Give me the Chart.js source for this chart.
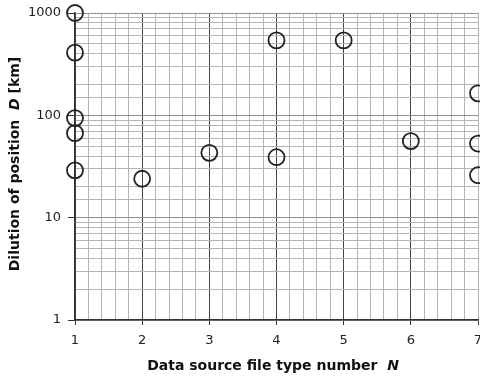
<!DOCTYPE html>
<html>
<head>
<meta charset="utf-8">
<script src="https://cdn.jsdelivr.net/npm/chart.js@4/dist/chart.umd.min.js"></script>
<style>
  html, body { margin: 0; padding: 0; background: #fff; }
  #wrap { width: 480px; height: 379px; }
</style>
</head>
<body>
<div id="wrap"><canvas id="myChart"></canvas></div>
<script>
// data
const fileType = [1, 1, 1, 1, 1, 2, 3, 4, 4, 5, 6, 7, 7, 7];
const dilution = [1000, 410, 94, 67, 29, 24, 43, 540, 39, 540, 56, 164, 53, 26];
const yDecades = [1, 10, 100, 1000];
const xTitle = ['Data source file type number  ', 'N'];
const yTitle = ['Dilution of position  ', 'D', ' [km]'];

const isInt = v => Math.abs(v - Math.round(v)) < 1e-6;
const isDecade = v => yDecades.some(d => Math.abs(v - d) < 1e-6);

// axis titles with an italic symbol
const titles = {
  id: 'titles',
  afterDraw(chart) {
    const c = chart.ctx;
    const bold = 'bold 14px "DejaVu Sans"';
    const ital = 'bold italic 14px "DejaVu Sans"';
    const parts = (arr, symIdx) => arr.map((t, i) => ({ t, f: i === symIdx ? ital : bold }));
    const drawRun = (runs, cx, cy) => {
      let w = 0;
      runs.forEach(r => { c.font = r.f; w += c.measureText(r.t).width; });
      let x = cx - w / 2;
      runs.forEach(r => { c.font = r.f; c.fillText(r.t, x, cy); x += c.measureText(r.t).width; });
    };
    c.save();
    c.fillStyle = '#111';
    c.textBaseline = 'middle';
    drawRun(parts(xTitle, 1), 273, 366);
    c.translate(15, 164);
    c.rotate(-Math.PI / 2);
    drawRun(parts(yTitle, 1), 0, 0);
    c.restore();
  }
};

new Chart(document.getElementById('myChart'), {
  type: 'scatter',
  data: {
    datasets: [{
      data: fileType.map((x, i) => ({ x, y: dilution[i] })),
      pointStyle: 'circle',
      pointRadius: 8,
      pointHoverRadius: 8,
      pointBorderWidth: 1.8,
      borderColor: '#222',
      backgroundColor: 'rgba(0,0,0,0)',
      clip: false
    }]
  },
  options: {
    responsive: true,
    maintainAspectRatio: false,
    animation: false,
    events: [],
    layout: { autoPadding: false, padding: { top: 13, right: 2, left: 0, bottom: 0 } },
    plugins: { legend: { display: false }, tooltip: { enabled: false } },
    scales: {
      x: {
        type: 'linear',
        min: 1,
        max: 7,
        afterFit: s => { s.height = 59; s.paddingLeft = 0; s.paddingRight = 0; },
        ticks: {
          stepSize: 0.2,
          autoSkip: false,
          maxRotation: 0,
          padding: 8,
          color: '#222',
          font: { family: 'DejaVu Sans', size: 13 },
          callback: v => isInt(v) ? String(Math.round(v)) : ''
        },
        grid: {
          color: ctx => ctx.tick && isInt(ctx.tick.value) && ctx.tick.value < 6.5 ? '#444' : '#b4b4b4',
          lineWidth: 1,
          tickLength: 5,
          tickColor: ctx => ctx.tick && isInt(ctx.tick.value) ? '#333' : 'rgba(0,0,0,0)'
        },
        border: { color: '#333', width: 1.5 }
      },
      y: {
        type: 'logarithmic',
        min: 1,
        max: 1000,
        afterFit: s => { s.width = 75; s.paddingTop = 0; s.paddingBottom = 0; },
        ticks: {
          autoSkip: false,
          padding: 7,
          color: '#222',
          font: { family: 'DejaVu Sans', size: 13 },
          callback: v => isDecade(v) ? String(v) : ''
        },
        grid: {
          color: ctx => ctx.tick && isDecade(ctx.tick.value) ? '#909090' : '#b4b4b4',
          lineWidth: 1,
          tickLength: 7,
          tickColor: ctx => ctx.tick && isDecade(ctx.tick.value) ? '#333' : 'rgba(0,0,0,0)'
        },
        border: { color: '#333', width: 1.5 }
      }
    }
  },
  plugins: [titles]
});
</script>
</body>
</html>
